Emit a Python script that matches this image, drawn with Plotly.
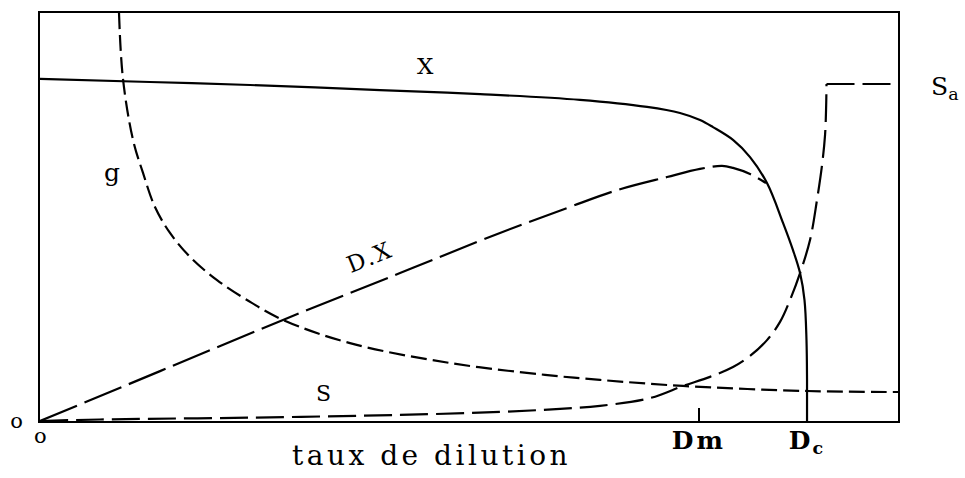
import plotly.graph_objects as go

# Dilution rate axis (Dc = critical dilution rate = 1.0) and concentrations scaled to Sa = 1.0
D_M = 0.859
D_C = 1.0
S_A = 1.0
D_MAX = 1.1186
C_MAX = 1.2107

# Biomass X
x_rate = [0.0, 0.1434, 0.2738, 0.4433, 0.5737, 0.7040, 0.7914, 0.8344, 0.8605,
          0.8774, 0.9035, 0.9257, 0.9478, 0.9687, 0.9817, 0.9909, 0.9967,
          0.9993, 1.0, 1.0]
x_conc = [1.015, 1.006, 0.997, 0.982, 0.970, 0.953, 0.932, 0.914, 0.893,
          0.872, 0.834, 0.783, 0.706, 0.588, 0.507, 0.439, 0.359,
          0.240, 0.122, 0.0]

# Generation time g
g_rate = [0.1030, 0.1082, 0.1213, 0.1343, 0.1499, 0.1695, 0.1956, 0.2308, 0.2699,
          0.3168, 0.4042, 0.5346, 0.6584, 0.7301, 0.8383, 1.0, 1.1186]
g_val = [1.211, 1.015, 0.834, 0.736, 0.635, 0.558, 0.487, 0.418, 0.359,
         0.300, 0.231, 0.172, 0.137, 0.122, 0.104, 0.089, 0.086]

# Productivity D.X
dx_rate = [0.0, 0.1565, 0.3168, 0.4694, 0.5997, 0.6871, 0.7523, 0.8175, 0.8605,
           0.8892, 0.9035, 0.9257, 0.9465]
dx_val = [0.0, 0.148, 0.300, 0.439, 0.558, 0.632, 0.685, 0.724, 0.748,
          0.757, 0.751, 0.733, 0.706]

# Residual substrate S: rising branch, then the plateau at the feed concentration Sa
s_rate = [0.0, 0.0782, 0.2738, 0.4694, 0.5997, 0.6780, 0.7301, 0.7953, 0.8383,
          0.8735, 0.9035, 0.9257, 0.9478, 0.9648, 0.9778, 0.9909, 1.0039,
          1.0130, 1.0196, 1.0235, 1.0248, 1.0254]
s_conc = [0.0, 0.0045, 0.010, 0.018, 0.027, 0.036, 0.045, 0.068, 0.104,
          0.131, 0.160, 0.193, 0.240, 0.294, 0.359, 0.439, 0.537,
          0.656, 0.760, 0.849, 0.923, S_A]
s_plateau_rate = [1.0254, D_MAX]
s_plateau_conc = [S_A, S_A]

x_tick_vals = [0.0, D_M, D_C]
x_tick_text = ["", "<span style='letter-spacing:3px'>Dm</span>",
               "<span style='letter-spacing:2px'>D<sub>c</sub></span>"]

SERIF = "DejaVu Serif"
BLACK = "#000000"
LW = 2.2

fig = go.Figure()

fig.add_trace(go.Scatter(x=x_rate, y=x_conc, mode="lines",
                         line=dict(color=BLACK, width=LW, shape="spline", smoothing=1.0)))
fig.add_trace(go.Scatter(x=g_rate, y=g_val, mode="lines",
                         line=dict(color=BLACK, width=LW, dash="16px,6px",
                                   shape="spline", smoothing=1.0)))
fig.add_trace(go.Scatter(x=dx_rate, y=dx_val, mode="lines",
                         line=dict(color=BLACK, width=LW, dash="40px,8px",
                                   shape="spline", smoothing=1.0)))
fig.add_trace(go.Scatter(x=s_rate, y=s_conc, mode="lines",
                         line=dict(color=BLACK, width=LW, dash="28px,8px",
                                   shape="spline", smoothing=1.0)))
fig.add_trace(go.Scatter(x=s_plateau_rate, y=s_plateau_conc, mode="lines",
                         line=dict(color=BLACK, width=LW, dash="28px,8px")))

labels = [
    dict(x=0.0939, y=0.736, text="g", size=25, angle=0),
    dict(x=0.502, y=1.053, text="X", size=23, angle=0),
    dict(x=0.430, y=0.487, text="<span style='letter-spacing:2px'>D.X</span>", size=23, angle=-22),
    dict(x=0.369, y=0.083, text="S", size=22, angle=0),
]
annotations = [
    dict(x=l["x"], y=l["y"], xref="x", yref="y", text=l["text"], showarrow=False,
         textangle=l["angle"], font=dict(family=SERIF, size=l["size"], color=BLACK),
         xanchor="center", yanchor="middle")
    for l in labels
]
# Feed concentration label, right of the frame
annotations.append(dict(x=(945 - 40) / 858, y=(421 - 88) / 408, xref="paper", yref="paper",
                        text="S<sub>a</sub>", showarrow=False, xanchor="center",
                        yanchor="middle", font=dict(family=SERIF, size=25, color=BLACK)))
# Origin of the dilution-rate axis
annotations.append(dict(x=0.0, y=-15 / 408, xref="x", yref="paper", text="o",
                        showarrow=False, xanchor="center", yanchor="middle",
                        font=dict(family=SERIF, size=21, color=BLACK)))
# Axis title
annotations.append(dict(
    x=(431 - 40) / 858, y=-35 / 408, xref="paper", yref="paper",
    text="<span style='letter-spacing:3.5px'>taux de dilution</span>",
    showarrow=False, xanchor="center", yanchor="middle",
    font=dict(family=SERIF, size=28, color=BLACK)))

fig.update_layout(
    width=965, height=478,
    margin=dict(l=40, r=67, t=13, b=57, autoexpand=False),
    paper_bgcolor="white", plot_bgcolor="white",
    showlegend=False,
    annotations=annotations,
    xaxis=dict(range=[0, D_MAX], showgrid=False, zeroline=False, automargin=False,
               showline=True, mirror=True, linecolor=BLACK, linewidth=2,
               tickmode="array", tickvals=x_tick_vals, ticktext=x_tick_text,
               ticks="inside", ticklen=13, tickwidth=2, tickcolor=BLACK,
               ticklabelstandoff=-4,
               tickfont=dict(family=SERIF, size=25, color=BLACK, weight="bold")),
    yaxis=dict(range=[0, C_MAX], showgrid=False, zeroline=False, automargin=False,
               showline=True, mirror=True, linecolor=BLACK, linewidth=2,
               tickmode="array", tickvals=[0.0], ticktext=["o"], ticks="",
               ticklabelstandoff=11,
               tickfont=dict(family=SERIF, size=21, color=BLACK)),
)

fig.write_html("out.html")
